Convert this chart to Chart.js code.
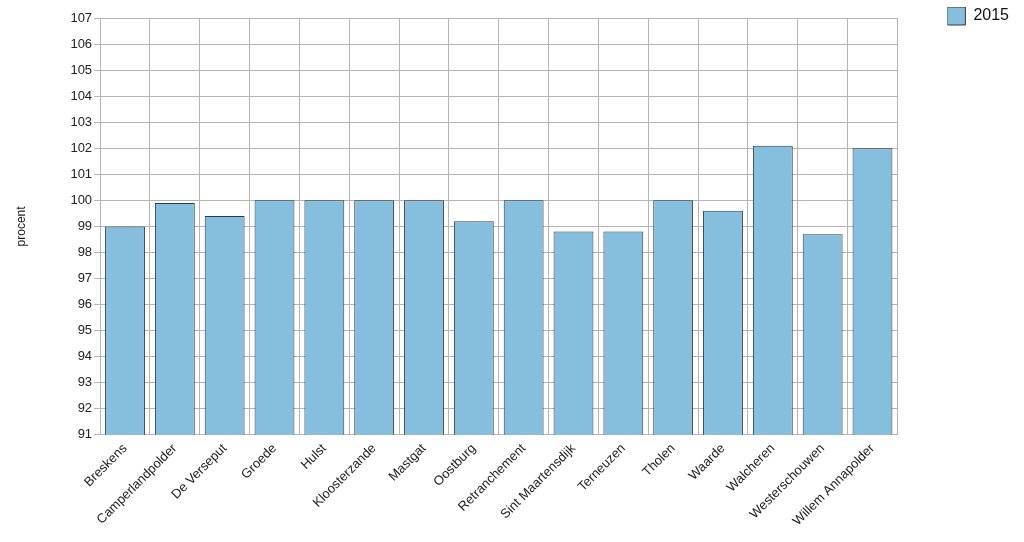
<!DOCTYPE html>
<html>
<head>
<meta charset="utf-8">
<script src="https://cdn.jsdelivr.net/npm/chart.js@4/dist/chart.umd.min.js"></script>
<style>
  html, body { margin: 0; padding: 0; background: #fff; }
  #wrap { width: 1024px; height: 542px; }
</style>
</head>
<body>
<div id="wrap"><canvas id="chart"></canvas></div>
<script>
// data
const categories = ['Breskens', 'Camperlandpolder', 'De Verseput', 'Groede', 'Hulst', 'Kloosterzande',
  'Mastgat', 'Oostburg', 'Retranchement', 'Sint Maartensdijk', 'Terneuzen', 'Tholen', 'Waarde',
  'Walcheren', 'Westerschouwen', 'Willem Annapolder'];
const values2015 = [99.0, 99.9, 99.4, 100, 100, 100, 100, 99.2, 100, 98.8, 98.8, 100, 99.6, 102.1, 98.7, 102.0];
const seriesLabel = '2015';
const yMin = 91;
const yMax = 107;

const gridColor = '#b4b4b4';
const textColor = '#222';

Chart.defaults.font.family = '"Liberation Sans", Arial, sans-serif';

const ctx = document.getElementById('chart').getContext('2d');
new Chart(ctx, {
  type: 'bar',
  data: {
    labels: categories,
    datasets: [{
      label: seriesLabel,
      data: values2015,
      backgroundColor: '#86bfdd',
      borderColor: '#2b3b4a',
      borderWidth: 1,
      barPercentage: 0.8,
      categoryPercentage: 1.0
    }]
  },
  options: {
    responsive: true,
    maintainAspectRatio: false,
    animation: false,
    layout: { padding: { top: 7, right: 5, left: 10, bottom: 7 } },
    plugins: {
      tooltip: { enabled: false },
      // blank title, only pushes the plot down while the legend stays at the top
      title: {
        display: true,
        text: ' ',
        fullSize: false,
        padding: 0,
        font: { size: 10, lineHeight: 1.1 }
      },
      legend: {
        position: 'right',
        align: 'start',
        labels: {
          boxWidth: 18,
          boxHeight: 18,
          padding: 0,
          color: '#111',
          font: { size: 16 }
        }
      }
    },
    scales: {
      x: {
        grid: { color: gridColor, drawTicks: false, offset: true },
        border: { color: gridColor },
        ticks: {
          color: textColor,
          font: { size: 13 },
          maxRotation: 45,
          minRotation: 45,
          padding: 6,
          autoSkip: false
        }
      },
      y: {
        min: yMin,
        max: yMax,
        grid: { color: gridColor, tickLength: 6 },
        border: { color: gridColor },
        ticks: { stepSize: 1, color: textColor, font: { size: 13 }, padding: 2 },
        title: { display: true, text: 'procent', color: textColor, font: { size: 12 }, padding: { bottom: 40 } }
      },
      // empty axis that only keeps a gap between the plot and the legend
      gap: {
        position: 'right',
        axis: 'y',
        display: true,
        grid: { display: false },
        border: { display: false },
        ticks: { display: false },
        afterFit: (scale) => { scale.width = 50; }
      }
    }
  }
});
</script>
</body>
</html>
